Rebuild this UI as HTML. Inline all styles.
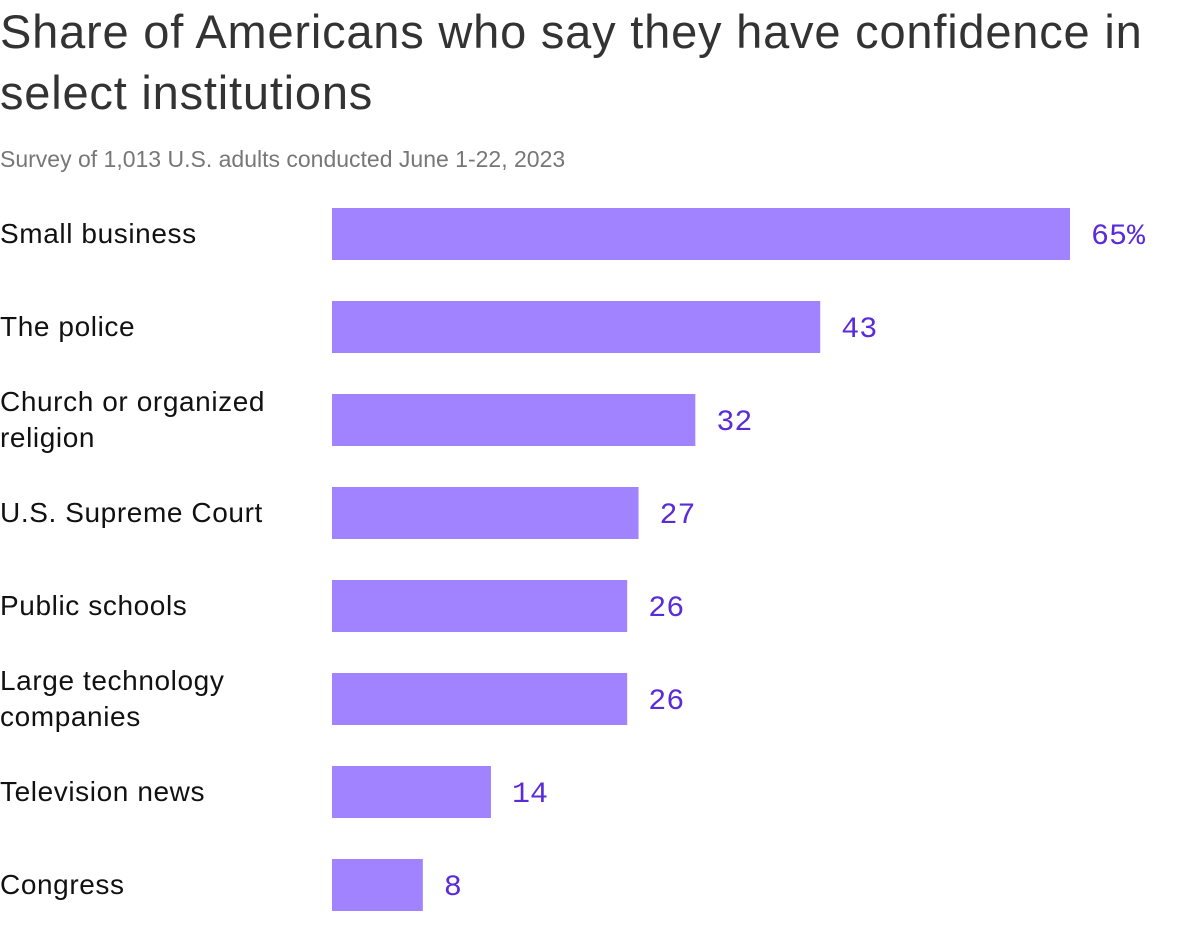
<!DOCTYPE html>
<html><head><meta charset="utf-8"><style>
body{margin:0;background:#fff;width:1204px;height:926px;overflow:hidden;font-family:"Liberation Sans",sans-serif;}
#title{position:absolute;left:0;top:1px;font-size:47px;line-height:61px;color:#333;letter-spacing:0.8px;width:1180px;}
#sub{position:absolute;left:0;top:146px;font-size:23px;color:#777;letter-spacing:0px;}
svg{position:absolute;left:0;top:0;}
</style></head><body>
<div id="title">Share of Americans who say they have confidence in<br>select institutions</div>
<div id="sub">Survey of 1,013 U.S. adults conducted June 1-22, 2023</div>
<svg id="chart" width="1204" height="926"></svg>
<script>
const categories=[["Small business"],["The police"],["Church or organized","religion"],["U.S. Supreme Court"],["Public schools"],["Large technology","companies"],["Television news"],["Congress"]];
const values=[65,43,32,27,26,26,14,8];
const valueLabels=["65%","43","32","27","26","26","14","8"];
const NS="http://www.w3.org/2000/svg";
const svg=document.getElementById('chart');
const x0=332, scale=738/65, top0=208, pitch=93, bh=52;
const xs=v=>v*scale;
const ys=i=>top0+i*pitch;
values.forEach((v,i)=>{
  const y=ys(i);
  const r=document.createElementNS(NS,'rect');
  r.setAttribute('x',x0);r.setAttribute('y',y);r.setAttribute('width',xs(v));r.setAttribute('height',bh);r.setAttribute('fill','#a183ff');
  
  
  svg.appendChild(r);
  const t=document.createElementNS(NS,'text');
  t.setAttribute('x',x0+xs(v)+21);t.setAttribute('y',y+bh/2+10);
  t.setAttribute('font-family','"Liberation Mono",monospace');t.setAttribute('font-size','30');t.setAttribute('fill','#5a2bd9');
  t.textContent=valueLabels[i];
  
  
  svg.appendChild(t);
  const lines=categories[i];
  const l=document.createElementNS(NS,'text');
  l.setAttribute('font-family','"Liberation Sans",sans-serif');l.setAttribute('font-size','28');l.setAttribute('fill','#111');
  l.setAttribute('letter-spacing','0.6');
  
  
  lines.forEach((s,k)=>{
    const ts=document.createElementNS(NS,'tspan');
    ts.setAttribute('x',0);
    ts.setAttribute('y',y+bh/2+9+(k-(lines.length-1)/2)*36);
    ts.textContent=s;l.appendChild(ts);
  });
  svg.appendChild(l);
});
</script>
</body></html>
